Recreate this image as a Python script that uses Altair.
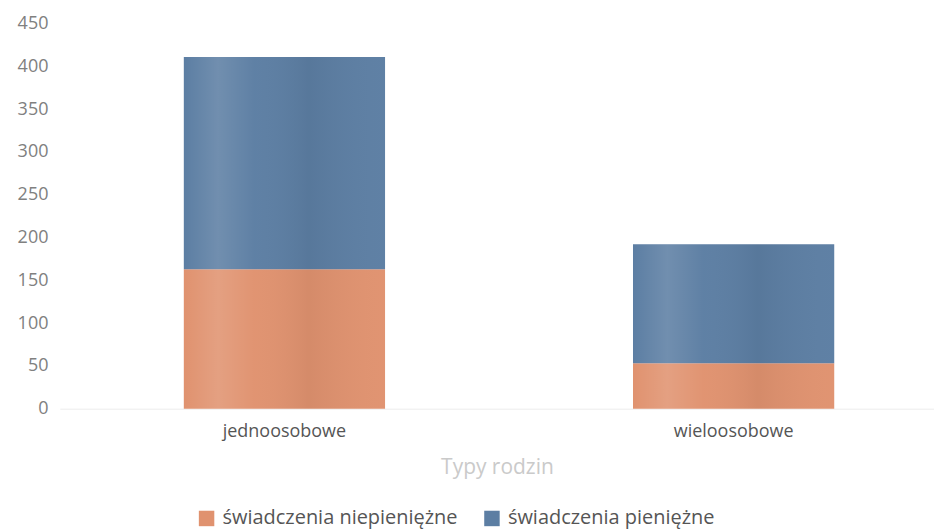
import altair as alt
import pandas as pd

categories = ["jednoosobowe", "wieloosobowe"]
series = ["świadczenia niepieniężne", "świadczenia pieniężne"]
niepieniezne = [163, 53]
pieniezne = [248, 139]
colors = ["#E0926F", "#5C7EA3"]

rows = []
for i, c in enumerate(categories):
    rows.append({"typ": c, "rodzaj": series[0], "wartosc": niepieniezne[i], "ord": 0})
    rows.append({"typ": c, "rodzaj": series[1], "wartosc": pieniezne[i], "ord": 1})
df = pd.DataFrame(rows)
tot = pd.DataFrame({"typ": categories, "total": [a + b for a, b in zip(niepieniezne, pieniezne)]})

FONT = "Open Sans"
xscale = alt.Scale(domain=categories, paddingInner=0.552, paddingOuter=0.249, align=0.554)
yscale = alt.Scale(domain=[0, 450])

bars = alt.Chart(df).mark_bar().encode(
    x=alt.X("typ:N", scale=xscale, sort=categories,
            axis=alt.Axis(title="Typy rodzin", labelAngle=0, labelFontSize=18, labelColor="#555",
                          labelFont=FONT, titleFont=FONT, titleFontSize=21, titleColor="#cacaca",
                          titleFontWeight="normal", titlePadding=16, labelPadding=14,
                          ticks=False, domain=True, domainColor="#ececec", domainWidth=1)),
    y=alt.Y("wartosc:Q", stack="zero", scale=yscale,
            axis=alt.Axis(title=None, values=list(range(0, 451, 50)), grid=False, ticks=False,
                          domain=False, labelFontSize=18, labelColor="#808080", labelFont=FONT,
                          labelPadding=12)),
    color=alt.Color("rodzaj:N", scale=alt.Scale(domain=series, range=colors),
                    legend=alt.Legend(title=None, orient="none", direction="horizontal",
                                      legendX=137, legendY=486, symbolType="square", symbolSize=240,
                                      labelFontSize=20, labelFont=FONT, labelColor="#555",
                                      labelLimit=0, columnPadding=24, labelOffset=6,
                                      symbolStrokeWidth=0)),
    order=alt.Order("ord:Q"),
)

shade = alt.Chart(tot).mark_bar(
    fill=alt.Gradient(gradient="linear", x1=0, x2=1, y1=0, y2=0, stops=[
        alt.GradientStop(offset=0, color="rgba(255,255,255,0.0)"),
        alt.GradientStop(offset=0.17, color="rgba(255,255,255,0.13)"),
        alt.GradientStop(offset=0.35, color="rgba(255,255,255,0.02)"),
        alt.GradientStop(offset=0.62, color="rgba(0,0,0,0.05)"),
        alt.GradientStop(offset=1, color="rgba(255,255,255,0.02)"),
    ])
).encode(
    x=alt.X("typ:N", scale=xscale, sort=categories),
    y=alt.Y("total:Q", scale=yscale),
)

chart = alt.layer(bars, shade).properties(
    width=876, height=386,
    autosize=alt.AutoSizeParams(type="none"),
    padding={"left": 52, "top": 15, "right": 0, "bottom": 120},
).configure_view(stroke=None)

chart.save("out.html", embed_options={"renderer": "svg", "actions": False})
